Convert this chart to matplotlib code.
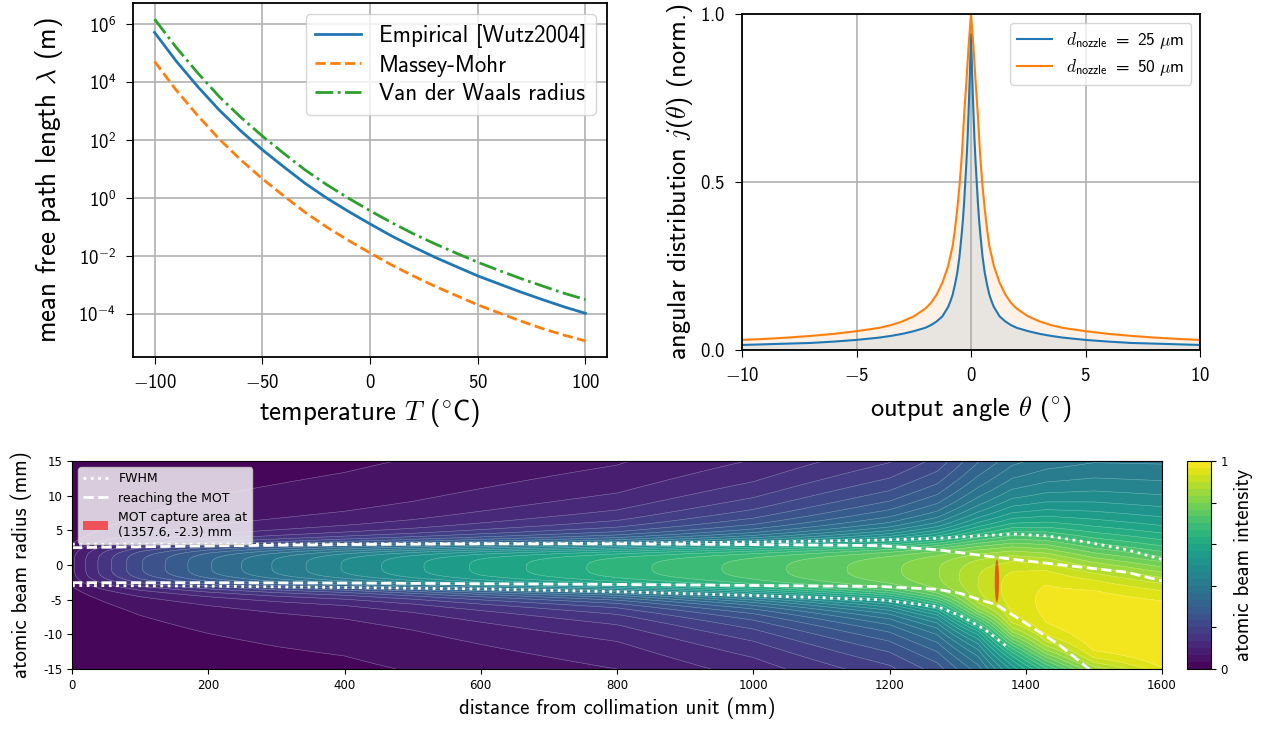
import matplotlib
matplotlib.use('Agg')
import matplotlib.pyplot as plt
import numpy as np
from matplotlib.patches import Ellipse, Patch
from matplotlib.lines import Line2D
from matplotlib.ticker import FuncFormatter, NullLocator

plt.rcParams['font.family'] = ['cmss10', 'DejaVu Sans']
plt.rcParams['mathtext.fontset'] = 'custom'
plt.rcParams['mathtext.rm'] = 'cmss10'
plt.rcParams['mathtext.sf'] = 'cmss10'
plt.rcParams['mathtext.it'] = 'cmmi10'
plt.rcParams['mathtext.bf'] = 'cmss10'
plt.rcParams['axes.unicode_minus'] = False

# mean free path vs temperature
temps = [-100, -90, -80, -70, -60, -50, -40, -30, -20, -10, 0,
         10, 20, 30, 40, 50, 60, 70, 80, 90, 100]
lam_empirical = [5.2e5, 5.4e4, 7.1e3, 1.1e3, 2.1e2, 47, 12, 3.2, 1.0, 0.35, 0.13,
                 0.050, 0.021, 9.3e-3, 4.4e-3, 2.1e-3, 1.1e-3, 5.8e-4, 3.2e-4, 1.8e-4, 1.07e-4]
lam_massey = [5.2e4, 5.4e3, 7.1e2, 1.1e2, 21, 4.7, 1.2, 0.32, 0.10, 0.035, 0.013,
              5.0e-3, 2.1e-3, 9.3e-4, 4.4e-4, 2.1e-4, 1.1e-4, 5.8e-5, 3.2e-5, 1.9e-5, 1.2e-5]
lam_vdw = [1.5e6, 1.6e5, 2.1e4, 3.2e3, 6.2e2, 1.4e2, 35, 9.3, 2.9, 1.0, 0.37,
           0.145, 0.060, 0.027, 0.0128, 6.2e-3, 3.2e-3, 1.7e-3, 9.4e-4, 5.3e-4, 3.2e-4]

# angular distribution (normalised), read for theta >= 0, the curves are symmetric
theta_half = [0, 0.05, 0.1, 0.15, 0.2, 0.25, 0.3, 0.35, 0.4, 0.5, 0.6, 0.7, 0.8, 0.9, 1.0,
              1.25, 1.5, 1.75, 2, 2.5, 3, 3.5, 4, 5, 6, 7, 8, 9, 10]
j_25_half = [0.94, 0.82, 0.72, 0.63, 0.56, 0.50, 0.44, 0.39, 0.35, 0.28, 0.23, 0.195, 0.165, 0.145, 0.128,
             0.10, 0.085, 0.074, 0.066, 0.056, 0.048, 0.042, 0.037, 0.030, 0.025, 0.021, 0.019, 0.017, 0.015]
j_50_half = [1.0, 0.955, 0.91, 0.855, 0.80, 0.75, 0.70, 0.64, 0.58, 0.49, 0.42, 0.36, 0.31, 0.28, 0.25,
             0.20, 0.165, 0.14, 0.123, 0.100, 0.085, 0.074, 0.066, 0.056, 0.048, 0.042, 0.037, 0.033, 0.030]
theta = [-t for t in theta_half[:0:-1]] + theta_half
j_25 = j_25_half[:0:-1] + j_25_half
j_50 = j_50_half[:0:-1] + j_50_half

# atomic beam: profile parameters read at stations along the beam
beam_x = [0, 25, 50, 100, 150, 200, 300, 400, 500, 600, 800, 1000, 1200, 1270, 1330, 1380, 1430, 1500, 1600]
beam_peak = [0.06, 0.11, 0.155, 0.23, 0.28, 0.33, 0.405, 0.47, 0.525, 0.575, 0.65, 0.715, 0.79,
             0.83, 0.90, 0.95, 0.975, 0.995, 1.0]
beam_center = [0, 0, 0, -0.05, -0.05, -0.1, -0.15, -0.2, -0.25, -0.3, -0.4, -0.5, -0.65,
               -1.0, -2.6, -4.2, -5.8, -8.8, -11.0]
beam_w_up = [3.0, 3.0, 3.0, 3.05, 3.05, 3.1, 3.15, 3.25, 3.3, 3.35, 3.5, 3.8, 4.2,
             4.85, 6.9, 8.7, 9.9, 11.6, 12.5]
beam_w_dn = [3.0, 3.0, 3.0, 3.0, 3.05, 3.05, 3.1, 3.1, 3.2, 3.3, 3.45, 3.9, 4.4,
             5.0, 5.9, 7.6, 8.5, 8.0, 8.0]
beam_tail = [0.2, 0.2, 0.2, 0.2, 0.2, 0.2, 0.2, 0.2, 0.22, 0.25, 0.3, 0.4, 0.52,
             0.55, 0.55, 0.55, 0.55, 0.55, 0.55]

fwhm_top_x = [0, 200, 400, 600, 800, 1000, 1186, 1270, 1330, 1382, 1431, 1490, 1549, 1600]
fwhm_top = [3.0, 3.0, 3.05, 3.1, 3.15, 3.3, 3.6, 3.85, 4.2, 4.47, 4.2, 3.3, 2.2, 0.8]
fwhm_bot_x = [0, 200, 400, 600, 800, 1000, 1186, 1270, 1304, 1340, 1374]
fwhm_bot = [-2.95, -3.05, -3.25, -3.45, -3.85, -4.4, -5.0, -6.0, -7.3, -9.3, -11.9]
mot_top_x = [0, 200, 400, 600, 800, 1000, 1186, 1270, 1358, 1453, 1549, 1600]
mot_top = [2.5, 2.75, 2.95, 3.05, 3.05, 2.95, 2.8, 2.2, 1.1, 0.0, -1.05, -2.3]
mot_bot_x = [0, 200, 400, 600, 800, 1000, 1186, 1270, 1304, 1358, 1400, 1449, 1493]
mot_bot = [-2.55, -2.55, -2.6, -2.7, -2.8, -2.95, -3.1, -3.5, -4.1, -5.8, -8.4, -11.5, -15]
mot_pos = (1357.6, -2.3)
mot_diam = 6.2

W, H = 1272, 729
fig = plt.figure(figsize=(W / 100, H / 100), dpi=100)


def px_axes(x0, y0, x1, y1):
    return fig.add_axes([x0 / W, 1 - y1 / H, (x1 - x0) / W, (y1 - y0) / H])


# plain math tick labels so the minus comes from the math fonts
lin_fmt = FuncFormatter(lambda v, p: r'$%g$' % v)
dec_fmt = FuncFormatter(lambda v, p: r'$%.1f$' % v)
log_fmt = FuncFormatter(lambda v, p: r'$10^{%d}$' % round(np.log10(v)))

# --- top left: mean free path
ax1 = px_axes(133, 3, 607, 357)
ax1.plot(temps, lam_empirical, '-', color='tab:blue', lw=2, label='Empirical [Wutz2004]')
ax1.plot(temps, lam_massey, '--', color='tab:orange', lw=2, label='Massey-Mohr')
ax1.plot(temps, lam_vdw, '-.', color='tab:green', lw=2, label='Van der Waals radius')
ax1.set_yscale('log')
ax1.set_yticks([1e-4, 1e-2, 1, 1e2, 1e4, 1e6])
ax1.yaxis.set_minor_locator(NullLocator())
ax1.yaxis.set_major_formatter(log_fmt)
ax1.set_xticks([-100, -50, 0, 50, 100])
ax1.xaxis.set_major_formatter(lin_fmt)
ax1.grid(True, color='#b0b0b0', lw=1.2)
ax1.set_xlabel(r'temperature $T$ $(^{\circ}\mathrm{C})$', fontsize=19.5, labelpad=4)
ax1.set_ylabel(r'mean free path length $\lambda$ (m)', fontsize=19.5, labelpad=10)
ax1.tick_params(labelsize=13.5, length=5, pad=7)
ax1.legend(loc='upper right', fontsize=16.5, labelspacing=0.3)

# --- top right: angular distribution
ax2 = px_axes(742, 14, 1200, 350)
ax2.plot(theta, j_25, color='tab:blue', lw=1.5, label=r'$d_\mathrm{nozzle}\ =\ 25\ \mu$m')
ax2.plot(theta, j_50, color='tab:orange', lw=1.5, label=r'$d_\mathrm{nozzle}\ =\ 50\ \mu$m')
ax2.fill_between(theta, 0, j_50, color='tab:orange', alpha=0.1, lw=0)
ax2.fill_between(theta, 0, j_25, color='tab:blue', alpha=0.1, lw=0)
ax2.set_xlim(-10, 10)
ax2.set_ylim(0, 1)
ax2.set_xticks([-10, -5, 0, 5, 10])
ax2.set_yticks([0, 0.5, 1.0])
ax2.xaxis.set_major_formatter(lin_fmt)
ax2.yaxis.set_major_formatter(dec_fmt)
ax2.grid(True, color='#b0b0b0', lw=1.2)
ax2.set_xlabel(r'output angle $\theta$ $(^{\circ})$', fontsize=19, labelpad=7)
ax2.set_ylabel(r'angular distribution $j(\theta)$ (norm.)', fontsize=18.8)
ax2.tick_params(labelsize=13.5, length=5, pad=7)
ax2.legend(loc='upper right', fontsize=12.5, labelspacing=0.35)

for ax in (ax1, ax2):
    for s in ax.spines.values():
        s.set_linewidth(1.3)

# --- bottom: atomic beam intensity map
ax3 = px_axes(72, 461, 1162, 669)
cax = px_axes(1187, 461, 1211, 669)

ys = np.linspace(-15, 15, 151)
X, Y = np.meshgrid(beam_x, ys)
cen = np.array(beam_center)[None, :]
wid = np.where(Y >= cen, np.array(beam_w_up)[None, :], np.array(beam_w_dn)[None, :])
t = np.array(beam_tail)[None, :]
u = (Y - cen) / wid
Z = np.array(beam_peak)[None, :] * ((1 - t) / (1 + u ** 4) + t / (1 + (u / 3) ** 2))

levels = np.linspace(0, 1, 31)
cf = ax3.contourf(X, Y, Z, levels=levels, cmap='viridis', vmin=0, vmax=1)
ax3.contour(X, Y, Z, levels=levels, colors='white', linewidths=0.4, alpha=0.35)

ax3.plot(fwhm_top_x, fwhm_top, ':', color='white', lw=2)
ax3.plot(fwhm_bot_x, fwhm_bot, ':', color='white', lw=2)
ax3.plot(mot_top_x, mot_top, '--', color='white', lw=2)
ax3.plot(mot_bot_x, mot_bot, '--', color='white', lw=2)
ax3.add_patch(Ellipse(mot_pos, mot_diam, mot_diam, color='red', alpha=0.6, lw=0))
ax3.set_xlim(0, 1600)
ax3.set_ylim(-15, 15)
ax3.set_xticks(range(0, 1601, 200))
ax3.set_yticks([-15, -10, -5, 0, 5, 10, 15])
ax3.tick_params(labelsize=8.5, labelfontfamily='DejaVu Sans')
ax3.set_xlabel('distance from collimation unit (mm)', fontsize=15)
ax3.set_ylabel('atomic beam radius (mm)', fontsize=15, labelpad=8)

handles = [Line2D([], [], ls=':', color='white', lw=2),
           Line2D([], [], ls='--', color='white', lw=2),
           Patch(color='red', alpha=0.6, lw=0)]
ax3.legend(handles, ['FWHM', 'reaching the MOT', 'MOT capture area at\n(%.1f, %.1f) mm' % mot_pos],
           loc='upper left', prop={'family': 'DejaVu Sans', 'size': 9})

cb = fig.colorbar(cf, cax=cax, ticks=np.linspace(0, 1, 6))
cb.set_ticklabels(['0', '', '', '', '', '1'])
cb.ax.tick_params(labelsize=8.5, labelfontfamily='DejaVu Sans')
cb.set_label('atomic beam intensity', fontsize=15)

fig.savefig('out.png', dpi=100)
